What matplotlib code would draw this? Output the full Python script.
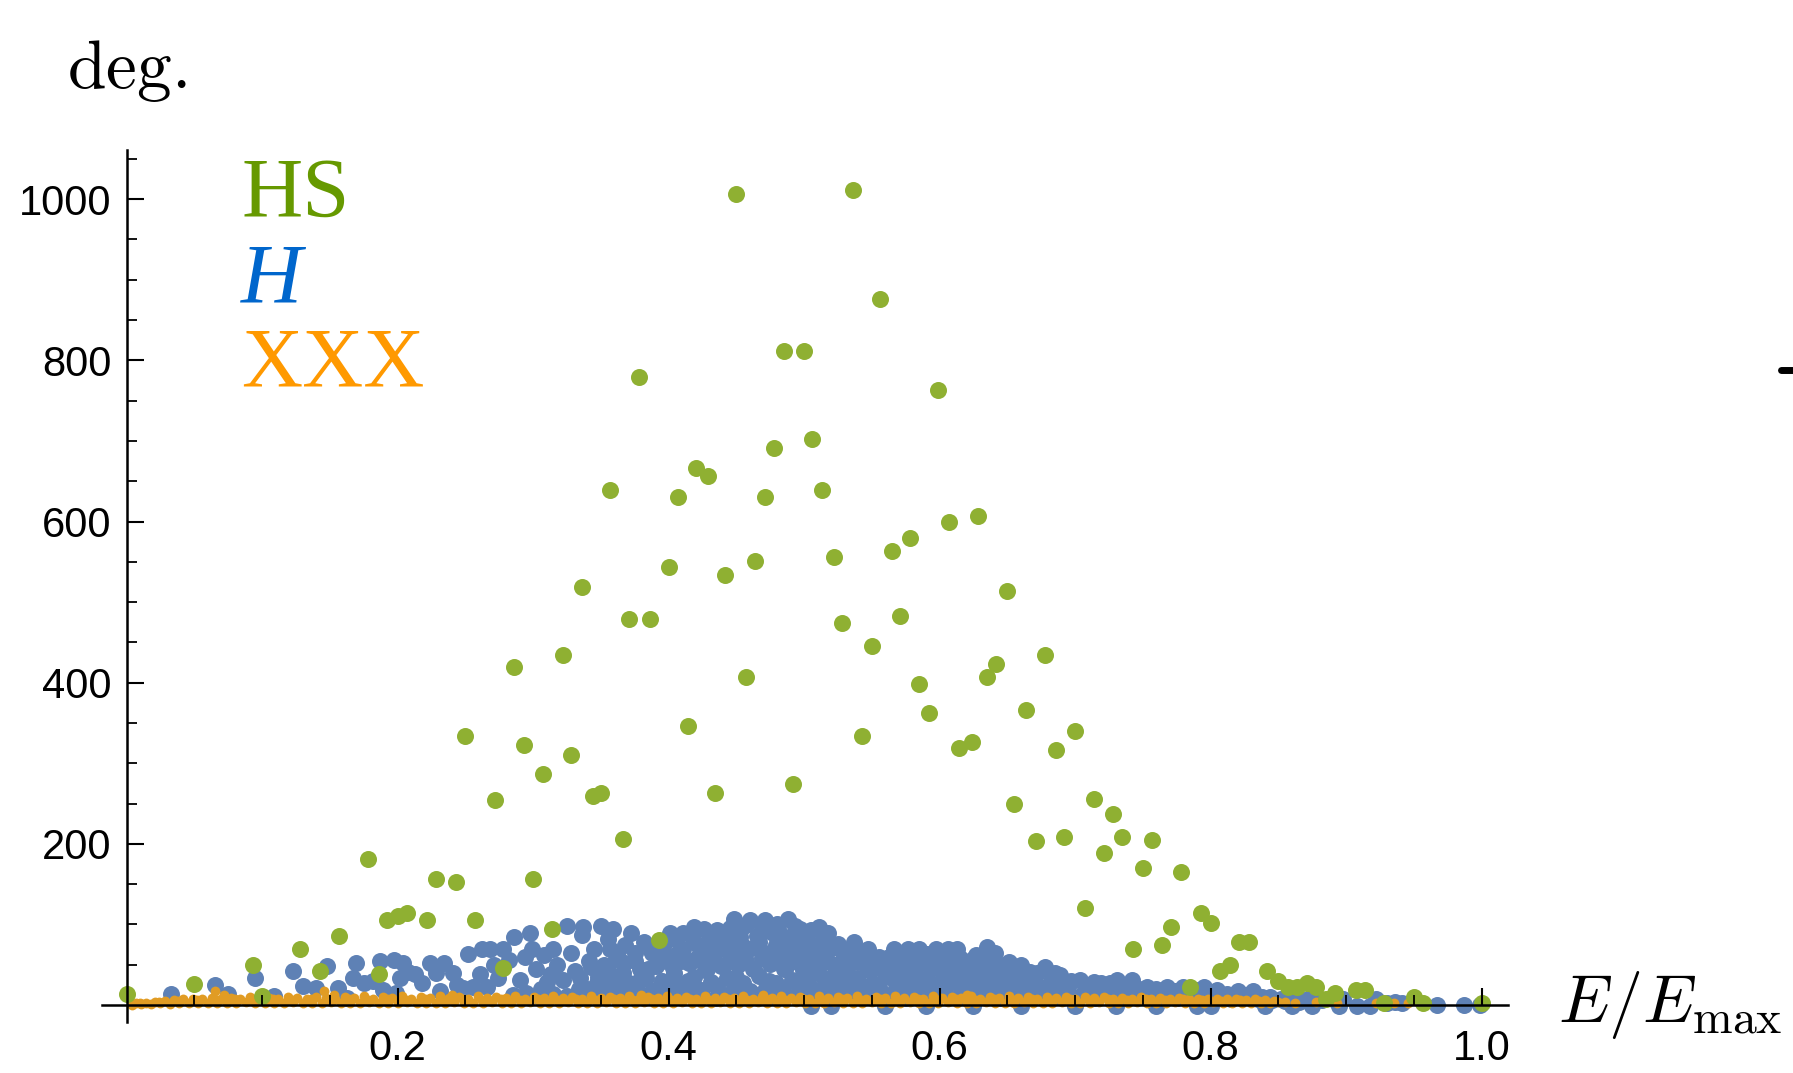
import matplotlib

matplotlib.use("Agg")
import matplotlib.pyplot as plt  # noqa: E402
import numpy as np  # noqa: E402
from matplotlib.lines import Line2D  # noqa: E402
from matplotlib.ticker import FixedLocator  # noqa: E402

# (E/Emax, deg.), one list per series
green_pts = [
    (0.000, 14), (0.050, 26), (0.093, 50), (0.100, 11), (0.128, 70), (0.143, 42),
    (0.157, 86), (0.178, 181), (0.186, 38), (0.192, 105), (0.200, 110), (0.207, 114),
    (0.222, 105), (0.228, 157), (0.243, 153), (0.257, 105), (0.278, 46), (0.300, 157),
    (0.314, 94), (0.393, 81),
    (0.250, 334), (0.272, 254), (0.286, 419), (0.293, 323), (0.307, 287), (0.322, 434),
    (0.328, 310), (0.336, 519), (0.344, 259), (0.350, 263), (0.357, 639), (0.366, 206),
    (0.371, 479), (0.378, 779), (0.386, 479), (0.400, 543), (0.407, 631), (0.414, 346),
    (0.420, 667), (0.429, 656), (0.434, 263), (0.442, 534), (0.450, 1007), (0.457, 407),
    (0.464, 551), (0.471, 631), (0.478, 691), (0.485, 811), (0.492, 274), (0.500, 811),
    (0.506, 703), (0.513, 639), (0.522, 556), (0.528, 474), (0.536, 1011), (0.543, 334),
    (0.550, 446), (0.556, 876), (0.565, 563), (0.571, 483), (0.578, 579), (0.585, 399),
    (0.592, 363), (0.599, 763), (0.607, 599), (0.614, 319), (0.624, 327), (0.628, 607),
    (0.635, 407), (0.642, 423), (0.650, 514), (0.655, 250), (0.664, 366), (0.671, 203),
    (0.678, 434),
    (0.686, 316), (0.700, 340), (0.692, 209), (0.714, 256), (0.728, 237), (0.735, 209),
    (0.721, 189), (0.757, 205), (0.750, 170), (0.778, 165), (0.707, 121), (0.793, 114),
    (0.800, 102), (0.771, 97), (0.743, 70), (0.764, 74), (0.821, 78), (0.828, 78),
    (0.814, 50), (0.807, 42), (0.842, 42), (0.850, 30), (0.857, 22), (0.864, 22),
    (0.871, 28), (0.878, 22), (0.785, 22), (0.885, 7), (0.892, 15), (0.907, 19),
    (0.914, 19), (0.928, 3), (0.950, 10), (0.957, 3), (1.000, 3),
]

blue_pts = [
    # sparse left part
    (0.033, 14), (0.065, 25), (0.075, 14), (0.095, 34), (0.109, 11), (0.123, 42),
    (0.130, 24), (0.140, 21), (0.148, 48), (0.156, 21), (0.163, 9), (0.167, 34),
    (0.169, 52), (0.175, 27), (0.182, 30), (0.187, 55), (0.189, 19), (0.197, 56),
    (0.199, 15), (0.202, 33), (0.204, 52), (0.208, 41), (0.213, 38), (0.218, 27),
    (0.224, 52), (0.228, 40), (0.231, 18), (0.234, 52), (0.241, 40), (0.244, 25),
    (0.248, 21), (0.252, 63), (0.256, 22), (0.261, 38), (0.262, 70), (0.266, 22),
    (0.268, 70), (0.271, 50), (0.274, 34), (0.278, 70), (0.282, 56), (0.286, 84),
    (0.290, 31), (0.294, 60), (0.298, 89), (0.299, 70),
    # dense hump
    (0.302, 45), (0.306, 20), (0.308, 62), (0.310, 29), (0.313, 39), (0.315, 70),
    (0.318, 50), (0.322, 31), (0.325, 98), (0.328, 64), (0.331, 42), (0.334, 20),
    (0.336, 87), (0.337, 97), (0.341, 55), (0.345, 69), (0.348, 35), (0.350, 98),
    (0.352, 50), (0.355, 82), (0.357, 70), (0.359, 95), (0.361, 25), (0.363, 60),
    (0.366, 40), (0.368, 75), (0.372, 89), (0.375, 55), (0.378, 30), (0.382, 78),
    (0.385, 45), (0.388, 65), (0.392, 20), (0.395, 55), (0.398, 80), (0.401, 89),
    (0.404, 40), (0.407, 65), (0.411, 89), (0.414, 30), (0.417, 55), (0.419, 97),
    (0.422, 75), (0.426, 95), (0.428, 45), (0.431, 62), (0.434, 25), (0.436, 93),
    (0.439, 80), (0.441, 50), (0.444, 70), (0.448, 107), (0.450, 35), (0.453, 85),
    (0.456, 60), (0.460, 106), (0.462, 45), (0.465, 75), (0.468, 90), (0.471, 106),
    (0.474, 30), (0.476, 60), (0.480, 101), (0.482, 80), (0.485, 45), (0.488, 107),
    (0.490, 65), (0.493, 85), (0.497, 94), (0.499, 35), (0.502, 55), (0.505, 75),
    (0.508, 40), (0.511, 97), (0.514, 60), (0.518, 89), (0.520, 30), (0.523, 50),
    (0.527, 70), (0.530, 40), (0.534, 55), (0.537, 78), (0.540, 30), (0.543, 60),
    (0.547, 70), (0.550, 45), (0.553, 25), (0.556, 55), (0.560, 40), (0.563, 60),
    (0.566, 70), (0.569, 30), (0.572, 50), (0.577, 70), (0.580, 40), (0.585, 70),
    (0.588, 55), (0.591, 30), (0.594, 45), (0.597, 70), (0.600, 55), (0.603, 35),
    (0.606, 70), (0.609, 50), (0.613, 70), (0.616, 30), (0.619, 50), (0.623, 40),
    (0.627, 55), (0.631, 30), (0.635, 72), (0.638, 45), (0.641, 64), (0.645, 35),
    (0.648, 50), (0.651, 54), (0.655, 30), (0.660, 50), (0.664, 38), (0.668, 25),
    (0.672, 40), (0.678, 47), (0.682, 30), (0.685, 40), (0.689, 37), (0.693, 25),
    (0.697, 30), (0.704, 31), (0.709, 22), (0.714, 29), (0.720, 20), (0.726, 28),
    (0.731, 31), (0.736, 22), (0.742, 31), (0.747, 20), (0.753, 23), (0.760, 20),
    (0.768, 23), (0.774, 17), (0.780, 23), (0.787, 17), (0.795, 23), (0.800, 15),
    (0.805, 19), (0.812, 14), (0.820, 17), (0.826, 12), (0.831, 17), (0.838, 10),
    (0.844, 10), (0.852, 8), (0.859, 10), (0.866, 7), (0.874, 10), (0.882, 6),
    (0.890, 8), (0.898, 8), (0.908, -1), (0.918, -1), (0.922, 8), (0.930, 3),
    (0.936, 4), (0.941, 2), (0.967, 0), (0.987, 0), (0.999, 0),
    # lower rows of the cloud
    (0.285, 12), (0.295, 15), (0.305, 10), (0.315, 14), (0.325, 11), (0.335, 9),
    (0.345, 15), (0.355, 12), (0.365, 10), (0.375, 14), (0.385, 11), (0.395, 13),
    (0.405, 10), (0.415, 15), (0.425, 12), (0.435, 9), (0.445, 14), (0.455, 11),
    (0.465, 13), (0.475, 10), (0.485, 15), (0.495, 12), (0.505, 9), (0.515, 14),
    (0.525, 11), (0.535, 13), (0.545, 10), (0.555, 15), (0.565, 12), (0.575, 9),
    (0.585, 14), (0.595, 11), (0.605, 13), (0.615, 10), (0.625, 15), (0.635, 12),
    (0.645, 9), (0.655, 14), (0.665, 11), (0.675, 13), (0.685, 10), (0.695, 14),
    (0.705, 12), (0.715, 9), (0.725, 13), (0.735, 11), (0.745, 12), (0.755, 10),
    (0.765, 13), (0.775, 9), (0.785, 12), (0.795, 10), (0.805, 11), (0.815, 8),
    (0.825, 10), (0.835, 7), (0.845, 6), (0.855, 5), (0.865, 4), (0.875, 5),
    (0.340, 20), (0.352, 22), (0.364, 19), (0.376, 21), (0.388, 18), (0.400, 22),
    (0.412, 20), (0.424, 19), (0.436, 22), (0.448, 20), (0.460, 18), (0.472, 21),
    (0.484, 20), (0.496, 22), (0.508, 19), (0.520, 21), (0.532, 20), (0.544, 22),
    (0.556, 19), (0.568, 21), (0.580, 20), (0.592, 18), (0.604, 22), (0.616, 20),
    (0.628, 19), (0.640, 21), (0.652, 20), (0.664, 18), (0.676, 19), (0.688, 17),
    (0.335, 33), (0.347, 28), (0.359, 36), (0.371, 27), (0.383, 34), (0.395, 30),
    (0.407, 26), (0.419, 35), (0.431, 29), (0.443, 33), (0.455, 27), (0.467, 36),
    (0.479, 28), (0.491, 31), (0.503, 26), (0.515, 34), (0.527, 29), (0.539, 33),
    (0.551, 27), (0.563, 35), (0.575, 28), (0.587, 32), (0.599, 26), (0.611, 34),
    (0.623, 28), (0.635, 31), (0.647, 27), (0.659, 33), (0.671, 26), (0.683, 29),
    (0.695, 22), (0.707, 24), (0.719, 27), (0.731, 21), (0.743, 24), (0.755, 18),
    (0.767, 20), (0.779, 16), (0.791, 19), (0.803, 14),
    (0.343, 47), (0.355, 44), (0.367, 52), (0.379, 45), (0.391, 49), (0.403, 46),
    (0.415, 52), (0.427, 44), (0.439, 48), (0.451, 50), (0.463, 45), (0.475, 51),
    (0.487, 47), (0.499, 44), (0.511, 49), (0.523, 46), (0.535, 52), (0.547, 44),
    (0.559, 48), (0.571, 45), (0.583, 50), (0.595, 46), (0.607, 42), (0.619, 47),
    (0.631, 44), (0.643, 43), (0.655, 40), (0.667, 41),
    (0.361, 57), (0.397, 58), (0.409, 55), (0.421, 58), (0.433, 54), (0.445, 57),
    (0.457, 55), (0.469, 58), (0.481, 56), (0.493, 55), (0.505, 58), (0.517, 55),
    (0.529, 57), (0.541, 54), (0.553, 57), (0.565, 55), (0.577, 57), (0.589, 53),
    (0.601, 56), (0.613, 54), (0.625, 57), (0.637, 55),
    (0.375, 64), (0.387, 68), (0.399, 62), (0.411, 70), (0.423, 63), (0.435, 67),
    (0.447, 62), (0.459, 70), (0.471, 64), (0.483, 68), (0.495, 63), (0.507, 66),
    (0.519, 70), (0.531, 62), (0.543, 65), (0.555, 60), (0.567, 58), (0.579, 61),
    (0.591, 63), (0.603, 60), (0.615, 58), (0.627, 62),
    (0.395, 74), (0.431, 77), (0.443, 76), (0.455, 73), (0.467, 78), (0.479, 74),
    (0.491, 76), (0.503, 73), (0.515, 75), (0.539, 68),
    (0.405, 82), (0.417, 86), (0.429, 80), (0.441, 88), (0.453, 92), (0.465, 86),
    (0.477, 90), (0.489, 84), (0.501, 88), (0.513, 80), (0.525, 76),
    (0.445, 96), (0.457, 99), (0.469, 97), (0.481, 95), (0.493, 98), (0.505, 93),
    # just under the axis
    (0.505, -1), (0.520, -1), (0.560, -1), (0.590, -1), (0.625, -1), (0.660, -1),
    (0.700, -1), (0.730, -1), (0.760, -1), (0.790, -1), (0.800, -1), (0.840, -1),
    (0.860, -1), (0.875, -1), (0.895, -1),
]

orange_pts = [
    # lower row
    (0.004, 0), (0.011, 1), (0.018, 1), (0.025, 2), (0.032, 1), (0.039, 2), (0.046, 3),
    (0.053, 2), (0.060, 3), (0.067, 2), (0.074, 3), (0.081, 2), (0.088, 4), (0.095, 2),
    (0.102, 3), (0.109, 2), (0.116, 3), (0.123, 4), (0.130, 2), (0.137, 3), (0.144, 2),
    (0.151, 4), (0.158, 3), (0.165, 2), (0.172, 3), (0.179, 4), (0.186, 2), (0.193, 3),
    (0.200, 2), (0.207, 4), (0.214, 3), (0.221, 2), (0.228, 3), (0.235, 2), (0.242, 4),
    (0.249, 3), (0.256, 2), (0.263, 3), (0.270, 4), (0.277, 2), (0.284, 3), (0.291, 2),
    (0.298, 4), (0.305, 3), (0.312, 2), (0.319, 3), (0.326, 4), (0.333, 2), (0.340, 3),
    (0.347, 2), (0.354, 4), (0.361, 3), (0.368, 2), (0.375, 3), (0.382, 4), (0.389, 2),
    (0.396, 3), (0.403, 2), (0.410, 4), (0.417, 3), (0.424, 2), (0.431, 3), (0.438, 4),
    (0.445, 2), (0.452, 3), (0.459, 2), (0.466, 4), (0.473, 3), (0.480, 2), (0.487, 3),
    (0.494, 4), (0.501, 2), (0.508, 3), (0.515, 2), (0.522, 4), (0.529, 3), (0.536, 2),
    (0.543, 3), (0.550, 4), (0.557, 2), (0.564, 3), (0.571, 2), (0.578, 4), (0.585, 3),
    (0.592, 2), (0.599, 3), (0.606, 4), (0.613, 2), (0.620, 3), (0.627, 2), (0.634, 4),
    (0.641, 3), (0.648, 2), (0.655, 3), (0.662, 4), (0.669, 2), (0.676, 3), (0.683, 2),
    (0.690, 4), (0.697, 3), (0.704, 2), (0.711, 3), (0.718, 4), (0.725, 2), (0.732, 3),
    (0.739, 2), (0.746, 4), (0.753, 3), (0.760, 2), (0.767, 3), (0.774, 4), (0.781, 2),
    (0.788, 3), (0.795, 2), (0.802, 4), (0.809, 3), (0.816, 2), (0.823, 3), (0.830, 2),
    (0.837, 3), (0.844, 2),
    # middle row
    (0.010, 3), (0.024, 4), (0.038, 5), (0.052, 6), (0.066, 6), (0.080, 7), (0.094, 6),
    (0.108, 7), (0.122, 6), (0.136, 7), (0.150, 6), (0.164, 7), (0.178, 6), (0.192, 7),
    (0.206, 6), (0.220, 7), (0.234, 6), (0.248, 7), (0.262, 6), (0.276, 7), (0.290, 6),
    (0.304, 7), (0.318, 6), (0.332, 7), (0.346, 6), (0.360, 7), (0.374, 6), (0.388, 7),
    (0.402, 6), (0.416, 7), (0.430, 6), (0.444, 7), (0.458, 6), (0.472, 7), (0.486, 6),
    (0.500, 7), (0.514, 6), (0.528, 7), (0.542, 6), (0.556, 7), (0.570, 6), (0.584, 7),
    (0.598, 6), (0.612, 7), (0.626, 6), (0.640, 7), (0.654, 6), (0.668, 7), (0.682, 6),
    (0.696, 7), (0.710, 6), (0.724, 7), (0.738, 6), (0.752, 7), (0.766, 6), (0.780, 7),
    (0.794, 6), (0.808, 5), (0.822, 6), (0.836, 5), (0.850, 4),
    # upper row
    (0.007, 2), (0.014, 3), (0.021, 4), (0.028, 5), (0.035, 6), (0.042, 7), (0.049, 8),
    (0.056, 7), (0.063, 9), (0.070, 8), (0.077, 9), (0.084, 8), (0.091, 10), (0.098, 8),
    (0.105, 9), (0.112, 8), (0.119, 10), (0.126, 9), (0.133, 8), (0.140, 10), (0.147, 9),
    (0.154, 8), (0.161, 10), (0.168, 9), (0.175, 11), (0.182, 8), (0.189, 10), (0.196, 9),
    (0.203, 11), (0.210, 8), (0.217, 10), (0.224, 9), (0.231, 11), (0.238, 9), (0.245, 10),
    (0.252, 8), (0.259, 11), (0.266, 9), (0.273, 10), (0.280, 9), (0.287, 11), (0.294, 8),
    (0.301, 10), (0.308, 9), (0.315, 11), (0.322, 9), (0.329, 10), (0.336, 8), (0.343, 11),
    (0.350, 9), (0.357, 10), (0.364, 9), (0.371, 11), (0.378, 8), (0.385, 10), (0.392, 9),
    (0.399, 11), (0.406, 9), (0.413, 10), (0.420, 8), (0.427, 11), (0.434, 9), (0.441, 10),
    (0.448, 9), (0.455, 11), (0.462, 8), (0.469, 10), (0.476, 9), (0.483, 11), (0.490, 9),
    (0.497, 10), (0.504, 8), (0.511, 11), (0.518, 9), (0.525, 10), (0.532, 9), (0.539, 11),
    (0.546, 8), (0.553, 10), (0.560, 9), (0.567, 11), (0.574, 9), (0.581, 10), (0.588, 8),
    (0.595, 11), (0.602, 9), (0.609, 10), (0.616, 9), (0.623, 11), (0.630, 8), (0.637, 10),
    (0.644, 9), (0.651, 11), (0.658, 9), (0.665, 10), (0.672, 8), (0.679, 10), (0.686, 9),
    (0.693, 10), (0.700, 8), (0.707, 10), (0.714, 9), (0.721, 10), (0.728, 8), (0.735, 9),
    (0.742, 8), (0.749, 10), (0.756, 8), (0.763, 9), (0.770, 8), (0.777, 9), (0.784, 7),
    (0.791, 8), (0.798, 7), (0.805, 8), (0.812, 7), (0.819, 8), (0.826, 6), (0.833, 7),
    (0.840, 6), (0.847, 5),
    # stragglers
    (0.065, 17), (0.146, 17), (0.072, 12), (0.153, 13), (0.240, 13), (0.380, 12),
    (0.470, 13), (0.620, 13), (0.855, 4), (0.862, 3), (0.878, 4), (0.893, 3),
    (0.922, 3), (0.935, 3), (0.946, 2),
]

x_major = [0.2, 0.4, 0.6, 0.8, 1.0]
x_minor = [0.05, 0.1, 0.15, 0.25, 0.3, 0.35, 0.45, 0.5, 0.55, 0.65, 0.7, 0.75,
           0.85, 0.9, 0.95]
y_major = [200, 400, 600, 800, 1000]
y_minor = [50, 100, 150, 250, 300, 350, 450, 500, 550, 650, 700, 750, 850, 900,
           950, 1050]

legend_labels = ["HS", "H", "XXX"]
legend_colors = ["#669900", "#0066CC", "#FF9900"]

W, H = 1793, 1073
plt.rcParams["mathtext.fontset"] = "cm"
fig = plt.figure(figsize=(W / 100, H / 100), dpi=100)
ax = fig.add_axes([101.5 / W, 51 / H, 1406.5 / W, 872 / H])
ax.set_xlim(-0.0185, 1.0195)
ax.set_ylim(-21, 1061)

bx, by = np.array(blue_pts).T
ox, oy = np.array(orange_pts).T
gx, gy = np.array(green_pts).T
ax.scatter(bx, by, s=150, c="#5E81B5", linewidths=0)
ax.scatter(ox, oy, s=50, c="#E19C24", linewidths=0)
ax.scatter(gx, gy, s=150, c="#8FB032", linewidths=0)

for side in ("top", "right"):
    ax.spines[side].set_visible(False)
for side in ("left", "bottom"):
    ax.spines[side].set_position(("data", 0))
    ax.spines[side].set_linewidth(1.8)

ax.xaxis.set_major_locator(FixedLocator(x_major))
ax.xaxis.set_minor_locator(FixedLocator(x_minor))
ax.yaxis.set_major_locator(FixedLocator(y_major))
ax.yaxis.set_minor_locator(FixedLocator(y_minor))
ax.set_xticklabels(["0.2", "0.4", "0.6", "0.8", "1.0"])
ax.set_yticklabels(["200", "400", "600", "800", "1000"])
ax.tick_params(which="major", direction="in", length=12, width=1.5,
               labelsize=30, labelfontfamily="Liberation Sans")
ax.tick_params(which="minor", direction="in", length=7, width=1.3)
ax.tick_params(axis="x", which="major", pad=17)
ax.tick_params(axis="y", which="major", pad=11)

fig.text(67 / W, 1 - 88 / H, r"$\mathrm{deg.}$", fontsize=50, va="baseline")
fig.text(1558 / W, 1 - 1022 / H, r"$E/E_{\mathrm{max}}$", fontsize=49,
         va="baseline")

legend_base = [217, 302, 387]
for label, color, base in zip(legend_labels, legend_colors, legend_base):
    fig.text(241 / W, 1 - base / H, label, color=color, fontsize=61,
             family="Liberation Serif", va="baseline",
             style="italic" if label == "H" else "normal")

# stray dash at the right edge of the reference
fig.add_artist(Line2D([1781 / W, 1795 / W], [1 - 370 / H] * 2, color="black",
                      lw=5, solid_capstyle="round", transform=fig.transFigure))

fig.savefig("out.png", dpi=100)
